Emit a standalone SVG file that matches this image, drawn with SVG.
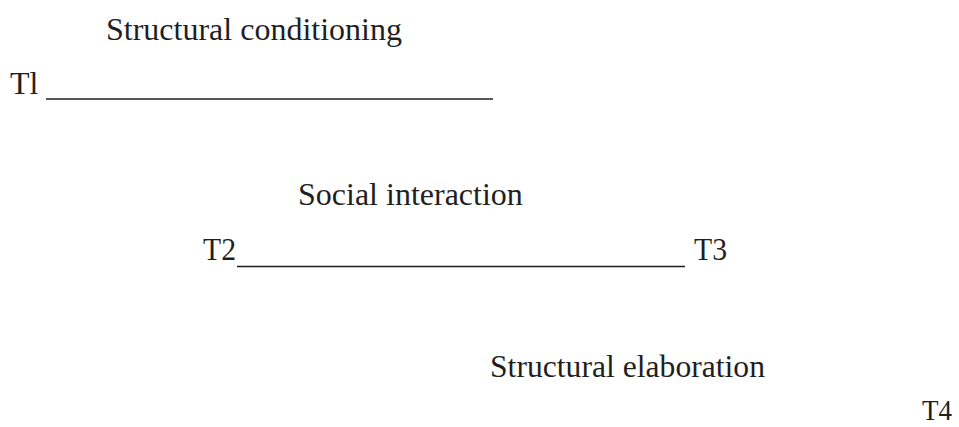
<svg xmlns="http://www.w3.org/2000/svg" width="959" height="427" viewBox="0 0 959 427">
<style>
text{font-family:"Liberation Serif","Times New Roman",serif;font-size:32px;fill:#1f1f1f}
line{stroke:#1f1f1f;stroke-width:1.6}
</style>
<rect width="959" height="427" fill="#ffffff"/>
<g id="structural-conditioning"><text x="106" y="40">Structural conditioning</text></g>
<g id="t1"><text x="10" y="94">Tl</text></g>
<g id="social-interaction"><text x="298" y="205">Social interaction</text></g>
<g id="t2"><text x="203" y="260" textLength="33" lengthAdjust="spacingAndGlyphs">T2</text></g>
<g id="t3"><text x="694" y="260" textLength="33" lengthAdjust="spacingAndGlyphs">T3</text></g>
<g id="structural-elaboration"><text x="490" y="377" textLength="275" lengthAdjust="spacingAndGlyphs">Structural elaboration</text></g>
<g id="t4"><text x="922" y="420" font-size="30" textLength="30" lengthAdjust="spacingAndGlyphs" style="font-size:30px">T4</text></g>
<g id="connectors">
<line x1="46" y1="99" x2="493" y2="99"/>
<line x1="237" y1="266.5" x2="685" y2="266.5"/>
</g>
</svg>
